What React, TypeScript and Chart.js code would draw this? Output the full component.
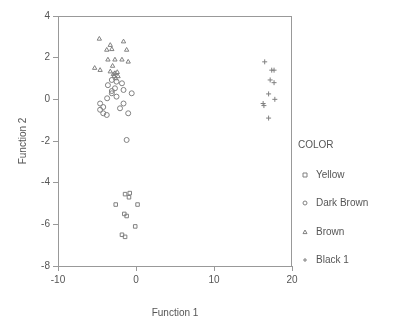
import React, { useEffect, useRef } from "react";
import { Chart, registerables } from "chart.js";

Chart.register(...registerables);

const seriesNames = ["Yellow", "Dark Brown", "Brown", "Black 1"];
const pointStyles = ["rect", "circle", "triangle", "cross"];

const yellowX = [-1.4, -0.8, -0.9, -2.6, 0.2, -1.5, -1.2, -0.1, -1.8, -1.4];
const yellowY = [-4.55, -4.5, -4.7, -5.05, -5.05, -5.5, -5.6, -6.1, -6.5, -6.6];

const darkBrownX = [-3.1, -3.6, -2.7, -1.8, -1.6, -0.55, -3.1, -2.5, -3.7, -4.6, -4.2, -1.6, -2.05, -4.6, -3.75, -1.0, -4.2, -1.2, -2.5, -3.1];
const darkBrownY = [0.93, 0.68, 0.53, 0.77, 0.45, 0.29, 0.29, 0.13, 0.05, -0.2, -0.37, -0.2, -0.43, -0.5, -0.75, -0.67, -0.67, -1.95, 0.85, 0.4];

const brownX = [-4.7, -3.3, -3.1, -1.6, -1.2, -3.75, -3.6, -2.7, -1.8, -1.0, -5.3, -4.6, -3.3, -2.7, -2.8, -2.3, -2.6, -2.9, -2.4, -3.0];
const brownY = [2.9, 2.6, 2.4, 2.77, 2.37, 2.37, 1.9, 1.9, 1.9, 1.8, 1.5, 1.4, 1.33, 1.25, 1.1, 1.1, 1.0, 1.2, 1.3, 1.6];

const black1X = [16.5, 17.4, 17.7, 17.2, 17.7, 17.0, 17.8, 16.3, 16.4, 17.0];
const black1Y = [1.8, 1.4, 1.4, 0.93, 0.8, 0.26, 0.0, -0.2, -0.3, -0.9];

const xTicks = [-10, 0, 10, 20];
const yTicks = [4, 2, 0, -2, -4, -6, -8];

const TEXT = "#555";
const AXIS = "#999";
const MARK = "#808080";
const FONT = "'Liberation Sans', Arial, sans-serif";

function toPts(xs: number[], ys: number[]) {
  return xs.map((x, i) => ({ x, y: ys[i] }));
}

function drawMarker(ctx: CanvasRenderingContext2D, style: string, x: number, y: number, r: number) {
  ctx.beginPath();
  if (style === "rect") {
    ctx.rect(x - r, y - r, 2 * r, 2 * r);
  } else if (style === "circle") {
    ctx.arc(x, y, r, 0, Math.PI * 2);
  } else if (style === "triangle") {
    ctx.moveTo(x, y - r);
    ctx.lineTo(x + r, y + r * 0.8);
    ctx.lineTo(x - r, y + r * 0.8);
    ctx.closePath();
  } else {
    ctx.moveTo(x - r, y);
    ctx.lineTo(x + r, y);
    ctx.moveTo(x, y - r);
    ctx.lineTo(x, y + r);
  }
  ctx.stroke();
}

const framePlugin = {
  id: "frame",
  afterDraw(chart: any) {
    const ctx = chart.ctx as CanvasRenderingContext2D;
    const a = chart.chartArea;
    ctx.save();
    ctx.setLineDash([]);
    ctx.strokeStyle = AXIS;
    ctx.lineWidth = 1;
    const l = Math.round(a.left) + 0.5;
    const r = Math.round(a.right) - 0.5;
    const t = Math.round(a.top) + 0.5;
    const b = Math.round(a.bottom) + 0.5;
    ctx.beginPath();
    ctx.moveTo(l, t);
    ctx.lineTo(r, t);
    ctx.lineTo(r, b);
    ctx.stroke();
    ctx.fillStyle = AXIS;
    ctx.fillRect(Math.round(a.left), Math.round(a.top), Math.round(a.right - a.left), 1);
    ctx.fillRect(Math.round(a.right) - 1, Math.round(a.top), 1, Math.round(a.bottom - a.top));
    // legend
    ctx.fillStyle = TEXT;
    ctx.font = `10px ${FONT}`;
    ctx.textBaseline = "middle";
    ctx.textAlign = "left";
    ctx.fillText("COLOR", 298, 145);
    const ys = [175, 203, 232, 260];
    ctx.strokeStyle = MARK;
    seriesNames.forEach((name, i) => {
      drawMarker(ctx, pointStyles[i], 305, ys[i], 2);
      ctx.fillText(name, 316, ys[i]);
    });
    ctx.restore();
  },
};

export default function App() {
  const ref = useRef<HTMLCanvasElement>(null);
  useEffect(() => {
    if (!ref.current) return;
    const data = [
      toPts(yellowX, yellowY),
      toPts(darkBrownX, darkBrownY),
      toPts(brownX, brownY),
      toPts(black1X, black1Y),
    ];
    const chart = new Chart(ref.current, {
      type: "scatter",
      data: {
        datasets: seriesNames.map((name, i) => ({
          label: name,
          data: data[i],
          pointStyle: pointStyles[i] as any,
          pointRadius: 2.5,
          borderColor: MARK,
          backgroundColor: "rgba(0,0,0,0)",
          borderWidth: 1,
        })),
      },
      options: {
        animation: false,
        responsive: false,
        layout: { padding: { top: 16, right: 102, left: 0, bottom: 0 } },
        plugins: { legend: { display: false }, tooltip: { enabled: false } },
        scales: {
          x: {
            type: "linear",
            min: -10,
            max: 20,
            afterBuildTicks: (s: any) => {
              s.ticks = xTicks.map((v) => ({ value: v }));
            },
            afterFit: (s: any) => {
              s.height = 56;
            },
            grid: { drawOnChartArea: false, drawTicks: true, tickLength: 5, color: AXIS },
            border: { color: AXIS },
            ticks: { color: TEXT, font: { size: 10, family: FONT }, padding: 3 },
            title: { display: true, text: "Function 1", color: TEXT, font: { size: 10, family: FONT }, padding: { top: 4, bottom: 3 } },
          },
          y: {
            type: "linear",
            min: -8,
            max: 4,
            afterBuildTicks: (s: any) => {
              s.ticks = yTicks.map((v) => ({ value: v }));
            },
            afterFit: (s: any) => {
              s.width = 58;
            },
            grid: { drawOnChartArea: false, drawTicks: true, tickLength: 5, color: AXIS },
            border: { color: AXIS },
            ticks: { color: TEXT, font: { size: 10, family: FONT }, padding: 3 },
            title: { display: true, text: "Function 2", color: TEXT, font: { size: 10, family: FONT }, padding: { top: 17, bottom: 0 } },
          },
        },
      },
      plugins: [framePlugin],
    });
    return () => chart.destroy();
  }, []);
  return (
    <div style={{ position: "absolute", left: 0, top: 0, width: 394, height: 322, background: "#fff" }}>
      <canvas ref={ref} width={394} height={322} style={{ width: 394, height: 322 }} />
    </div>
  );
}
